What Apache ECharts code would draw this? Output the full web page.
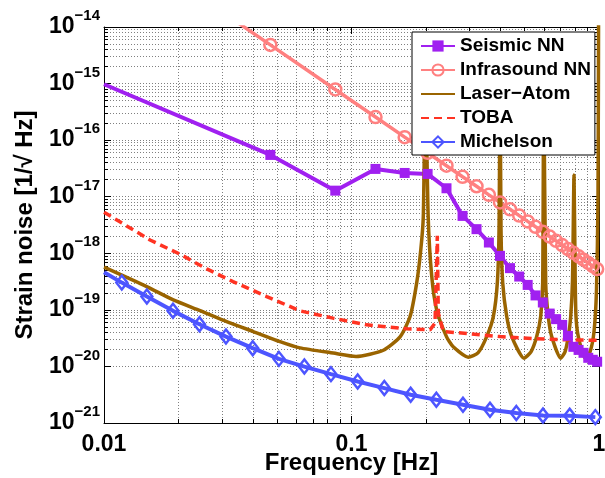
<!DOCTYPE html>
<html><head><meta charset="utf-8">
<script src="https://cdn.jsdelivr.net/npm/echarts@6/dist/echarts.min.js"></script>
<style>html,body{margin:0;padding:0;background:#fff}#c{width:605px;height:478px}</style>
</head><body><div id="c"></div>
<script>
// ---- data ----
const nnFreq = [0.047, 0.086, 0.125, 0.164, 0.203, 0.242, 0.281, 0.320, 0.359, 0.398, 0.437, 0.476, 0.515,
  0.554, 0.593, 0.632, 0.671, 0.710, 0.749, 0.788, 0.827, 0.866, 0.905, 0.944, 0.983];
const seismicStart = [0.01, 9.72e-16];
const seismicVal = [5.48e-17, 1.28e-17, 3.10e-17, 2.63e-17, 2.53e-17, 1.41e-17, 4.58e-18, 2.67e-18, 1.55e-18,
  9.0e-19, 5.46e-19, 3.88e-19, 2.76e-19, 1.80e-19, 1.35e-19, 8.6e-20, 6.85e-20, 5.43e-20, 3.47e-20, 2.22e-20,
  1.96e-20, 1.74e-20, 1.42e-20, 1.31e-20, 1.21e-20];
const infraStart = [0.03, 1.85e-14];
const infraVal = [4.82e-15, 7.86e-16, 2.56e-16, 1.13e-16, 5.98e-17, 3.53e-17, 2.25e-17, 1.53e-17, 1.08e-17,
  7.93e-18, 5.99e-18, 4.64e-18, 3.66e-18, 2.94e-18, 2.40e-18, 1.98e-18, 1.66e-18, 1.40e-18, 1.19e-18,
  1.02e-18, 8.84e-19, 7.70e-19, 6.75e-19, 5.94e-19, 5.26e-19];
const laserFreq = [0.01, 0.01488, 0.01905, 0.02443, 0.03131, 0.04011, 0.05141, 0.06193, 0.08444, 0.1043,
  0.1345, 0.1571, 0.1723, 0.1834, 0.1905, 0.1950, 0.1990, 0.2041, 0.2107, 0.2208, 0.2422, 0.2576, 0.2963,
  0.3244, 0.3518, 0.3741, 0.3883, 0.3945, 0.3985, 0.4019, 0.4083, 0.4238, 0.4439, 0.4977, 0.5311, 0.5601,
  0.5813, 0.5922, 0.5980, 0.6090, 0.6238, 0.6439, 0.7003, 0.7289, 0.7516, 0.7686, 0.7816, 0.7926, 0.8014,
  0.8074, 0.8248, 0.8779, 0.9197, 0.9546, 0.9770, 0.9907, 0.9970];
const laserVal = [5.68e-19, 2.58e-19, 1.50e-19, 9.72e-20, 6.21e-20, 4.14e-20, 2.75e-20, 2.13e-20, 1.72e-20,
  1.50e-20, 1.93e-20, 3.33e-20, 7.52e-20, 3.00e-19, 1.15e-18, 4.40e-18, 1.0e-15, 4.40e-18, 4.15e-19,
  1.00e-19, 3.33e-20, 2.22e-20, 1.46e-20, 1.74e-20, 3.37e-20, 7.61e-20, 3.00e-19, 2.59e-18, 1.0e-15,
  2.59e-18, 3.00e-19, 7.61e-20, 3.37e-20, 1.40e-20, 1.81e-20, 3.37e-20, 7.61e-20, 3.00e-19, 1.0e-15,
  3.00e-19, 7.61e-20, 3.37e-20, 1.40e-20, 1.81e-20, 3.37e-20, 7.61e-20, 3.39e-19, 2.43e-17, 3.39e-19,
  7.61e-20, 3.37e-20, 1.40e-20, 1.81e-20, 4.09e-20, 2.26e-19, 8.78e-18, 1.0e-13];
const tobaFreq = [0.01, 0.01534, 0.02028, 0.026, 0.0332, 0.04544, 0.06193, 0.0842, 0.1151, 0.1671, 0.2076,
  0.2175, 0.2222, 0.2242, 0.2349, 0.3012, 0.3981, 0.5412, 0.7405, 1.0];
const tobaVal = [5.32e-18, 1.72e-18, 9.64e-19, 5.30e-19, 3.16e-19, 1.72e-19, 9.60e-20, 7.14e-20, 5.43e-20,
  4.62e-20, 4.43e-20, 5.82e-20, 2.03e-18, 8.85e-20, 4.14e-20, 3.77e-20, 3.37e-20, 3.11e-20, 2.95e-20, 2.89e-20];
const michFreq = [0.01, 0.0118, 0.0149, 0.0190, 0.0243, 0.0311, 0.0399, 0.0509, 0.0645, 0.0826, 0.1059,
  0.1357, 0.1734, 0.2202, 0.2821, 0.3627, 0.4633, 0.5939, 0.7613, 0.9663];
const michVal = [4.63e-19, 3.03e-19, 1.72e-19, 9.6e-20, 5.58e-20, 3.37e-20, 2.10e-20, 1.36e-20, 9.95e-21,
  7.31e-21, 5.41e-21, 4.14e-21, 3.15e-21, 2.57e-21, 2.10e-21, 1.71e-21, 1.50e-21, 1.36e-21, 1.34e-21, 1.27e-21];
const xTickLabels = {'-2': '0.01', '-1': '0.1', '0': '1'};
const yTickExp = {'-21': '−21', '-20': '−20', '-19': '−19', '-18': '−18', '-17': '−17', '-16': '−16', '-15': '−15', '-14': '−14'};
const names = ['Seismic NN', 'Infrasound NN', 'Laser\u2212Atom', 'TOBA', 'Michelson'];
const colors = ['#a020f0', '#ff8080', '#9a6400', '#ff3322', '#4d55ff'];

const FONT = '"Liberation Sans", Arial, Helvetica, sans-serif';
const zip = (xs, ys) => xs.map((x, i) => [x, ys[i]]);
const Y_MIN = 0.99999e-21, Y_MAX = 1e-14;

const gridDot = {show: true, lineStyle: {color: '#808080', type: [1, 2], width: 1}};
function axisBase(extra) {
  return Object.assign({
    type: 'log', logBase: 10,
    axisLine: {show: true, onZero: false, lineStyle: {color: '#000', width: 1}},
    axisTick: {show: true, inside: true, length: 7, lineStyle: {color: '#000', width: 1}},
    minorTick: {show: true, splitNumber: 9, length: 4, lineStyle: {color: '#000', width: 1}},
    splitLine: {show: false},
    minorSplitLine: {show: false},
    axisLabel: {show: false}
  }, extra);
}
const gridRect = {left: 104, right: 6, top: 27, bottom: 55, containLabel: false, outerBoundsMode: 'none'};
function yLabel(v) {
  const l = Math.log10(v), r = Math.round(l);
  if (Math.abs(l - r) > 1e-3) return '';
  return '{b|10}{s|' + (yTickExp[String(r)] || '') + '}';
}

const chart = echarts.init(document.getElementById('c'), null, {renderer: 'canvas'});
chart.setOption({
  animation: false,
  backgroundColor: '#fff',
  textStyle: {fontFamily: FONT},
  grid: [Object.assign({}, gridRect), Object.assign({}, gridRect)],
  xAxis: [
    axisBase({
      gridIndex: 0, min: 0.01, max: 1, position: 'bottom',
      splitLine: gridDot, minorSplitLine: gridDot,
      name: 'Frequency [Hz]', nameLocation: 'middle', nameGap: 28, nameMoveOverlap: false,
      nameTextStyle: {fontSize: 24, fontWeight: 'bold', color: '#000', fontFamily: FONT},
      axisLabel: {show: true, margin: 14, fontSize: 23, lineHeight: 16, fontWeight: 'bold', color: '#000', fontFamily: FONT,
        showMinLabel: true, showMaxLabel: true, hideOverlap: false,
        formatter: v => xTickLabels[String(Math.round(Math.log10(v)))] || ''}
    }),
    axisBase({gridIndex: 0, min: 0.01, max: 1, position: 'top'}),
    {gridIndex: 1, type: 'log', logBase: 10, min: 0.01, max: 1, show: false}
  ],
  yAxis: [
    axisBase({
      gridIndex: 0, min: Y_MIN, max: Y_MAX, position: 'left', splitNumber: 7,
      splitLine: gridDot, minorSplitLine: gridDot
    }),
    axisBase({gridIndex: 0, min: Y_MIN, max: Y_MAX, position: 'right', splitNumber: 7}),
    {
      gridIndex: 1, type: 'log', logBase: 10, min: Y_MIN, max: Y_MAX, position: 'left', splitNumber: 7,
      axisLine: {show: false}, axisTick: {show: false}, minorTick: {show: false},
      splitLine: {show: false}, minorSplitLine: {show: false},
      name: 'Strain noise [1/\u221A Hz]', nameLocation: 'middle', nameGap: 67, nameMoveOverlap: false,
      nameTextStyle: {fontSize: 24, fontWeight: 'bold', color: '#000', fontFamily: FONT},
      axisLabel: {show: true, margin: 4, color: '#000', fontFamily: FONT,
        showMinLabel: true, showMaxLabel: true, hideOverlap: false,
        formatter: yLabel,
        rich: {
          b: {fontSize: 23, fontWeight: 'bold', color: '#000', fontFamily: FONT, lineHeight: 24},
          s: {fontSize: 15, fontWeight: 'bold', color: '#000', fontFamily: FONT, lineHeight: 16, padding: [0, 0, 22, 0]}
        }}
    }
  ],
  legend: {
    orient: 'vertical', left: 412, top: 32,
    padding: [4, 4, 3, 8], itemGap: 4, itemWidth: 34, itemHeight: 14,
    backgroundColor: '#fff', borderColor: '#000', borderWidth: 1, borderRadius: 0,
    textStyle: {fontSize: 19, fontWeight: 'bold', color: '#000', fontFamily: FONT, lineHeight: 20},
    data: [
      {name: names[0]},
      {name: names[1]},
      {name: names[2], itemStyle: {opacity: 0}},
      {name: names[3], itemStyle: {opacity: 0}},
      {name: names[4]}
    ]
  },
  series: [
    {
      name: names[0], type: 'line', color: colors[0], showAllSymbol: true,
      symbol: 'rect', symbolSize: 10,
      itemStyle: {color: colors[0]},
      lineStyle: {color: colors[0], width: 4},
      data: [{value: seismicStart, symbol: 'none'}].concat(zip(nnFreq, seismicVal))
    },
    {
      name: names[1], type: 'line', color: colors[1], showAllSymbol: true,
      symbol: 'circle', symbolSize: 12,
      itemStyle: {color: 'rgba(255,255,255,0)', borderColor: colors[1], borderWidth: 2.5},
      lineStyle: {color: colors[1], width: 3.5},
      data: [{value: infraStart, symbol: 'none'}].concat(zip(nnFreq, infraVal))
    },
    {
      name: names[2], type: 'line', color: colors[2], symbol: 'none', smooth: 0.2,
      lineStyle: {color: colors[2], width: 3.5},
      data: zip(laserFreq, laserVal)
    },
    {
      name: names[3], type: 'line', color: colors[3], symbol: 'none',
      lineStyle: {color: colors[3], width: 3.5, type: [8, 5]},
      data: zip(tobaFreq, tobaVal)
    },
    {
      name: names[4], type: 'line', color: colors[4], showAllSymbol: true,
      symbol: 'diamond', symbolSize: [11, 14],
      itemStyle: {color: 'rgba(255,255,255,0)', borderColor: colors[4], borderWidth: 2.5},
      lineStyle: {color: colors[4], width: 4},
      data: [{value: [michFreq[0], michVal[0]], symbol: 'none'}].concat(zip(michFreq.slice(1), michVal.slice(1)))
    }
  ]
});
</script></body></html>
